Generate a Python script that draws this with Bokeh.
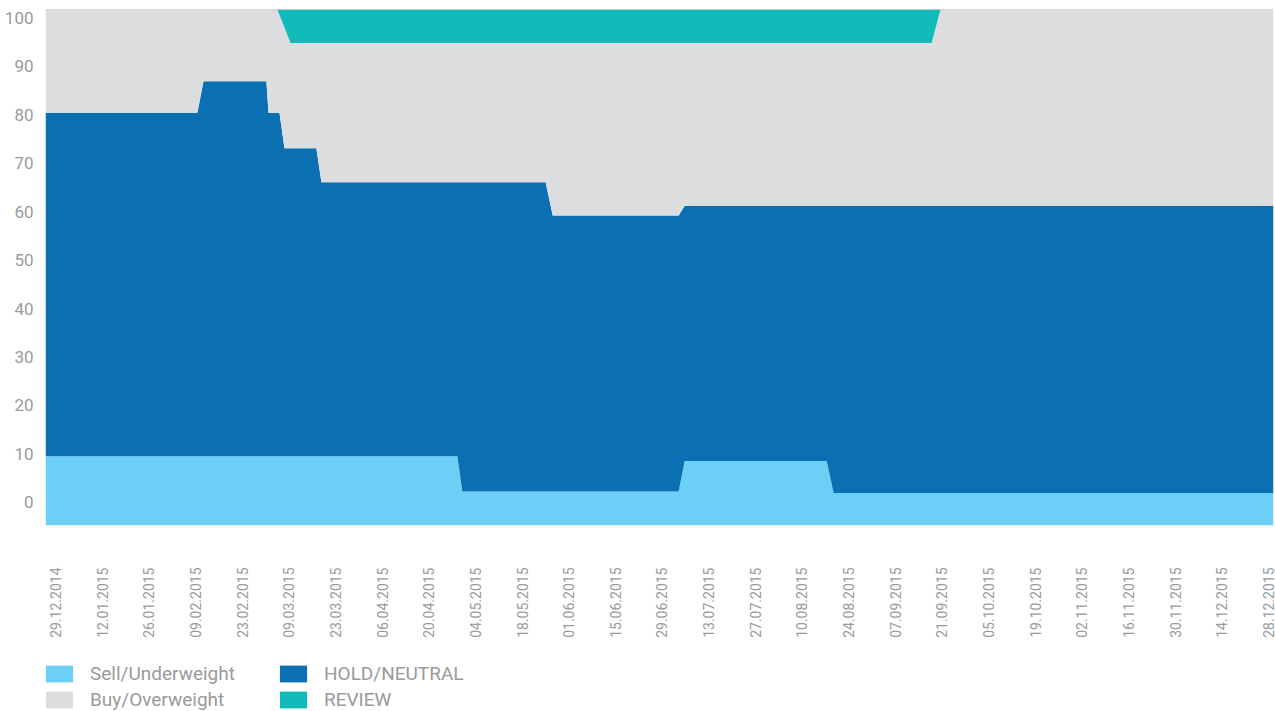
import math
import pandas as pd
from bokeh.plotting import figure
from bokeh.layouts import column
from bokeh.models import (ColumnDataSource, Range1d, LinearAxis, FixedTicker,
                          DatetimeTickFormatter, Legend, LegendItem, Span)
from bokeh.embed import file_html
from bokeh.resources import INLINE

# ---- data (percent of recommendations) ----
dates = ["2014-12-26 00:00", "2015-02-09 14:00", "2015-02-11 10:00", "2015-03-02 07:00",
         "2015-03-02 22:00", "2015-03-05 14:00", "2015-03-06 05:00", "2015-03-07 17:00",
         "2015-03-09 12:00", "2015-03-17 07:00", "2015-03-18 19:00", "2015-04-28 14:00",
         "2015-04-30 02:00", "2015-05-25 02:00", "2015-05-27 05:00", "2015-07-04 00:00",
         "2015-07-05 19:00", "2015-08-17 10:00", "2015-08-19 12:00", "2015-09-17 22:00",
         "2015-09-20 14:00", "2015-12-29 12:00"]
sell = [13.4, 13.4, 13.4, 13.4, 13.4, 13.4, 13.4, 13.4, 13.4, 13.4, 13.4, 13.4,
        6.6, 6.6, 6.6, 6.6, 12.5, 12.5, 6.3, 6.3, 6.3, 6.3]
hold = [66.6, 66.6, 72.7, 72.7, 66.6, 66.6, 66.6, 59.7, 59.7, 59.7, 53.1, 53.1,
        59.9, 59.9, 53.5, 53.5, 49.4, 49.4, 55.6, 55.6, 55.6, 55.6]
buy = [20.0, 20.0, 13.9, 13.9, 20.0, 20.0, 19.0, 23.4, 20.4, 20.4, 27.0, 27.0,
       27.0, 27.0, 33.4, 33.4, 31.6, 31.6, 31.6, 31.6, 38.1, 38.1]
review = [0, 0, 0, 0, 0, 0, 1.0, 3.5, 6.5, 6.5, 6.5, 6.5,
          6.5, 6.5, 6.5, 6.5, 6.5, 6.5, 6.5, 6.5, 0, 0]

series = ["Sell/Underweight", "HOLD/NEUTRAL", "Buy/Overweight", "REVIEW"]
colors = ["#6BCFF6", "#0B70B2", "#DCDDDF", "#10BBBA"]

tick_dates = ["2014-12-29", "2015-01-12", "2015-01-26", "2015-02-09", "2015-02-23",
              "2015-03-09", "2015-03-23", "2015-04-06", "2015-04-20", "2015-05-04",
              "2015-05-18", "2015-06-01", "2015-06-15", "2015-06-29", "2015-07-13",
              "2015-07-27", "2015-08-10", "2015-08-24", "2015-09-07", "2015-09-21",
              "2015-10-05", "2015-10-19", "2015-11-02", "2015-11-16", "2015-11-30",
              "2015-12-14", "2015-12-28"]
y_ticks = [0, 10, 20, 30, 40, 50, 60, 70, 80, 90, 100]

FONT = "Roboto"
TXT = "#9a9a9a"

dt = pd.to_datetime(dates)
src = ColumnDataSource(dict(date=dt, sell=sell, hold=hold, buy=buy, review=review))

p = figure(width=1275, height=650, output_backend="svg", toolbar_location=None,
           x_axis_type="datetime", y_axis_location=None,
           x_range=Range1d(dt[0], dt[-1]), y_range=Range1d(0, 100),
           min_border_left=45, min_border_right=2, min_border_top=9, min_border_bottom=125)
p.extra_y_ranges = {"lab": Range1d(-4.82, 101.76)}

rs = p.varea_stack(stackers=["sell", "hold", "buy", "review"], x="date", source=src, color=colors)

p.grid.visible = False
p.outline_line_color = None
p.background_fill_color = "white"
p.border_fill_color = "white"

p.add_layout(Span(location=100, dimension="width", line_color="#b4b4b4", line_width=1))

# x axis
xa = p.xaxis[0]
tick_ms = [pd.Timestamp(t).value // 10**6 for t in tick_dates]
xa.ticker = FixedTicker(ticks=tick_ms)
fmt = "%d.%m.%Y"
xa.formatter = DatetimeTickFormatter(days=fmt, months=fmt, years=fmt, hours=fmt,
                                     minutes=fmt, seconds=fmt, milliseconds=fmt,
                                     microseconds=fmt, minsec=fmt, hourmin=fmt)
xa.major_label_orientation = math.pi / 2
xa.major_label_text_font = FONT
xa.major_label_text_font_size = "14px"
xa.major_label_text_color = TXT
xa.major_label_standoff = 42
xa.major_tick_out = 0
xa.axis_line_color = None
xa.major_tick_line_color = None
xa.minor_tick_line_color = None

# y axis (labels)
ya = LinearAxis(y_range_name="lab", ticker=FixedTicker(ticks=y_ticks))
ya.major_label_text_font = FONT
ya.major_label_text_font_size = "17px"
ya.major_label_text_color = TXT
ya.major_label_standoff = 12
ya.axis_line_color = None
ya.major_tick_line_color = None
ya.minor_tick_line_color = None
ya.major_tick_out = 0
p.add_layout(ya, "left")

# legend strip below the chart (its frame is aligned with the chart frame)
lg = figure(width=1275, height=61, output_backend="svg", toolbar_location=None,
            x_axis_location=None, y_axis_location=None,
            x_range=Range1d(0, 1), y_range=Range1d(0, 1),
            min_border_left=0, min_border_right=0, min_border_top=0, min_border_bottom=0)
lg.grid.visible = False
lg.outline_line_color = None
lg.border_fill_color = "white"
lr = [lg.varea(x=[0, 0], y1=[0, 0], y2=[0, 0], color=c) for c in colors]

legend = Legend(items=[LegendItem(label=series[0], renderers=[lr[0]], index=0),
                       LegendItem(label=series[2], renderers=[lr[2]], index=0),
                       LegendItem(label=series[1], renderers=[lr[1]], index=0),
                       LegendItem(label=series[3], renderers=[lr[3]], index=0)],
                ncols=2, location=(-3, 0), margin=0, padding=0,
                glyph_width=34, glyph_height=21, label_standoff=14,
                label_width=183, label_height=17, spacing=3,
                label_text_font=FONT, label_text_font_size="19px", label_text_color=TXT,
                border_line_color=None, background_fill_alpha=0)
lg.add_layout(legend, "center")

layout = column(p, lg, spacing=0)
open("out.html", "w").write(file_html(layout, INLINE))
